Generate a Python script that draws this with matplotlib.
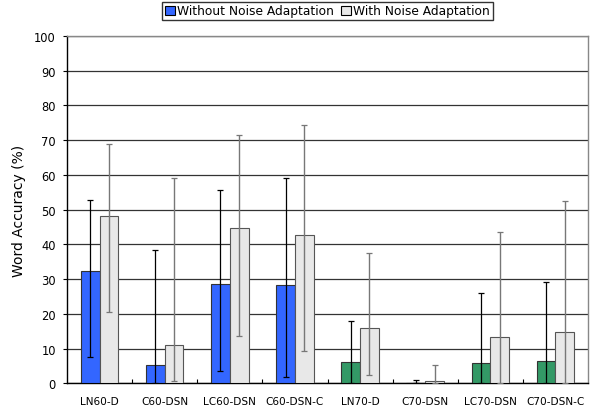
import matplotlib
matplotlib.use('Agg')
import matplotlib.pyplot as plt
import numpy as np
from matplotlib.patches import Patch

plt.rcParams['font.family'] = ['DejaVu Sans']

conditions = ['LN60-D', 'C60-DSN', 'LC60-DSN', 'C60-DSN-C',
              'LN70-D', 'C70-DSN', 'LC70-DSN', 'C70-DSN-C']

# without noise adaptation (mean, lower end, upper end of error bar)
base_mean = [32.4, 5.2, 28.5, 28.4, 6.0, 0.2, 5.8, 6.5]
base_low = [7.7, 0.0, 3.4, 1.7, 0.0, 0.0, 0.0, 0.0]
base_high = [52.8, 38.4, 55.8, 59.1, 17.9, 0.9, 26.0, 29.2]

# with noise adaptation
adapt_mean = [48.3, 11.1, 44.7, 42.6, 15.8, 0.6, 13.3, 14.7]
adapt_low = [20.6, 0.6, 13.7, 9.2, 2.3, 0.0, 0.0, 0.0]
adapt_high = [68.8, 59.1, 71.5, 74.4, 37.5, 5.3, 43.5, 52.6]

base_colors = ['#3366FF'] * 4 + ['#339966'] * 4
adapt_color = '#E8E8E8'

fig = plt.figure(figsize=(6, 4.1), dpi=100)
ax = fig.add_axes([67 / 600, 1 - 384.3 / 410, 521 / 600, (384.3 - 37) / 410])

x = np.arange(len(conditions))
w = 0.287

bm = np.array(base_mean)
am = np.array(adapt_mean)
b_err = [bm - np.array(base_low), np.array(base_high) - bm]
a_err = [am - np.array(adapt_low), np.array(adapt_high) - am]

ax.bar(x - w / 2, bm, w, color=base_colors, edgecolor='#333333', linewidth=0.8, zorder=3)
ax.bar(x + w / 2, am, w, color=adapt_color, edgecolor='#555555', linewidth=0.8, zorder=3)
ax.errorbar(x - w / 2, bm, yerr=b_err, fmt='none', ecolor='black',
            elinewidth=0.9, capsize=2, capthick=0.9, zorder=4)
ax.errorbar(x + w / 2, am, yerr=a_err, fmt='none', ecolor='#777777',
            elinewidth=1.0, capsize=2, capthick=0.9, zorder=4)

ax.set_xlim(-0.5, len(conditions) - 0.5)
ax.set_ylim(0, 100)
ax.set_yticks(np.arange(0, 101, 10))
ax.yaxis.grid(True, color='#333333', linewidth=0.9)
ax.set_axisbelow(True)

ax.set_xticks(x)
ax.set_xticklabels(conditions, fontsize=7.6)
ax.set_xticks(np.arange(0.5, len(conditions) - 0.5, 1), minor=True)
ax.tick_params(axis='x', which='major', length=0, pad=9)
ax.tick_params(axis='x', which='minor', direction='in', length=3, width=0.8)
ax.tick_params(axis='y', labelsize=8.3, length=3, width=0.8, direction='out', pad=5)

for s in ['left', 'bottom']:
    ax.spines[s].set_color('black')
    ax.spines[s].set_linewidth(1.0)
for s in ['top', 'right']:
    ax.spines[s].set_color('#888888')
    ax.spines[s].set_linewidth(1.0)

ax.set_ylabel('Word Accuracy (%)', fontsize=10, labelpad=6)

handles = [Patch(facecolor='#3366FF', edgecolor='black', linewidth=0.8),
           Patch(facecolor=adapt_color, edgecolor='black', linewidth=0.8)]
leg = fig.legend(handles, ['Without Noise Adaptation', 'With Noise Adaptation'],
                 loc='upper center', bbox_to_anchor=(327.5 / 600, 1 - 3 / 410),
                 ncol=2, fontsize=8.8, frameon=True, fancybox=False,
                 handlelength=0.8, handleheight=0.8, handletextpad=0.2,
                 columnspacing=0.6, borderpad=0.2, borderaxespad=0)
leg.get_frame().set_edgecolor('black')
leg.get_frame().set_linewidth(1.0)

fig.savefig('out.png', dpi=100)
